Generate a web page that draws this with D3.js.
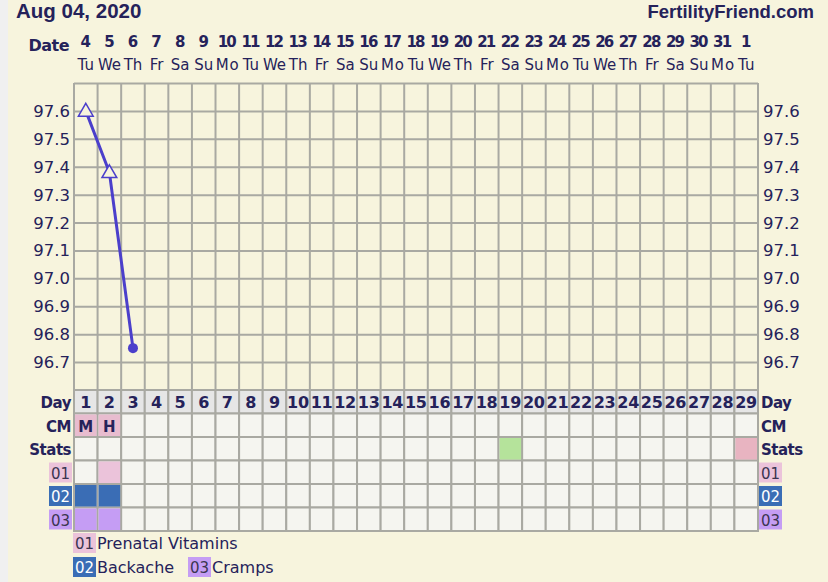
<!DOCTYPE html>
<html>
<head>
<meta charset="utf-8">
<script src="https://cdn.jsdelivr.net/npm/d3@7"></script>
<style>
  body { margin: 0; background: #f0f0f0; }
  svg text { font-family: "DejaVu Sans", Verdana, sans-serif; }
</style>
</head>
<body>
<div id="chart"></div>
<script>
// chart data
var cycleDays = d3.range(1, 30);
var dates = [4, 5, 6, 7, 8, 9, 10, 11, 12, 13, 14, 15, 16, 17, 18, 19, 20, 21, 22, 23, 24, 25, 26, 27, 28, 29, 30, 31, 1];
var weekdays = ['Tu', 'We', 'Th', 'Fr', 'Sa', 'Su', 'Mo', 'Tu', 'We', 'Th', 'Fr', 'Sa', 'Su', 'Mo',
  'Tu', 'We', 'Th', 'Fr', 'Sa', 'Su', 'Mo', 'Tu', 'We', 'Th', 'Fr', 'Sa', 'Su', 'Mo', 'Tu'];
var tempTicks = [97.6, 97.5, 97.4, 97.3, 97.2, 97.1, 97.0, 96.9, 96.8, 96.7];
var temps = [
  {day: 1, temp: 97.6, marker: 'triangle'},
  {day: 2, temp: 97.38, marker: 'triangle'},
  {day: 3, temp: 96.75, marker: 'circle'}
];
var cmValues = [{day: 1, text: 'M'}, {day: 2, text: 'H'}];
var statsValues = [{day: 19, color: '#b5e39b'}, {day: 29, color: '#e8b4c1'}];
var symptomCodes = ['01', '02', '03'];
var symptomNames = ['Prenatal Vitamins', 'Backache', 'Cramps'];
var symptomColors = ['#ebc3da', '#3a6db5', '#c59df4'];
var symptomDays = [[2], [1, 2], [1, 2]];

var width = 828, height = 582;
var ink = '#25225a';
var gridColor = '#a9a9a2';

var svg = d3.select('#chart').append('svg')
  .attr('width', width)
  .attr('height', height);

svg.append('rect').attr('x', 8).attr('y', 0).attr('width', width - 8).attr('height', height)
  .attr('fill', '#f7f4dd');

var x = d3.scaleBand().domain(cycleDays).range([74, 758]).padding(0);
var y = d3.scaleLinear().domain([96.6, 97.7]).range([390, 83]);
var cw = x.bandwidth();

// header
svg.append('text').attr('x', 16).attr('y', 18).attr('font-size', 20.5).attr('font-weight', 'bold')
  .style('font-family', '"Liberation Sans", Arial, sans-serif')
  .attr('fill', ink).text('Aug 04, 2020');
svg.append('text').attr('x', 814).attr('y', 18).attr('font-size', 18.5).attr('font-weight', 'bold')
  .style('font-family', '"Liberation Sans", Arial, sans-serif')
  .attr('text-anchor', 'end').attr('fill', ink).text('FertilityFriend.com');

svg.append('text').attr('x', 69).attr('y', 51).attr('font-size', 16).attr('font-weight', 'bold')
  .attr('text-anchor', 'end').attr('fill', ink).attr('letter-spacing', -0.5).text('Date');

svg.selectAll('.date').data(cycleDays).enter().append('text')
  .attr('x', function(d) { return x(d) + cw / 2; })
  .attr('y', 47).attr('font-size', 15).attr('font-weight', 'bold')
  .attr('text-anchor', 'middle').attr('fill', ink)
  .attr('textLength', function(d) { return dates[d - 1] > 9 ? 19 : null; })
  .text(function(d) { return dates[d - 1]; });

svg.selectAll('.wday').data(cycleDays).enter().append('text')
  .attr('x', function(d) { return x(d) + cw / 2; })
  .attr('y', 70).attr('font-size', 15)
  .attr('text-anchor', 'middle').attr('fill', ink)
  .attr('textLength', function(d) { var w = weekdays[d - 1]; return (w === 'We' || w === 'Mo') ? 23 : null; })
  .text(function(d) { return weekdays[d - 1]; });

// temperature grid
var plot = svg.append('g');
plot.append('g')
  .attr('transform', 'translate(74,0)')
  .call(d3.axisLeft(y).tickValues(d3.range(96.6, 97.75, 0.1)).tickSize(-(758 - 74)).tickFormat(''))
  .call(function(g) {
    g.select('.domain').remove();
    g.selectAll('line').attr('stroke', gridColor).attr('stroke-width', 2);
  });

plot.selectAll('.vline').data(d3.range(0, 30)).enter().append('line')
  .attr('x1', function(i) { return 74 + i * cw; })
  .attr('x2', function(i) { return 74 + i * cw; })
  .attr('y1', y(97.7)).attr('y2', y(96.6))
  .attr('stroke', gridColor).attr('stroke-width', 2);

// y tick labels both sides
svg.selectAll('.ltick').data(tempTicks).enter().append('text')
  .attr('x', 70).attr('y', function(d) { return y(d) + 6; })
  .attr('font-size', 16.5).attr('text-anchor', 'end').attr('fill', ink)
  .text(function(d) { return d.toFixed(1); });
svg.selectAll('.rtick').data(tempTicks).enter().append('text')
  .attr('x', 763).attr('y', function(d) { return y(d) + 6; })
  .attr('font-size', 16.5).attr('fill', ink)
  .text(function(d) { return d.toFixed(1); });

// temperature line
var line = d3.line()
  .x(function(d) { return x(d.day) + cw / 2; })
  .y(function(d) { return y(d.temp); });
svg.append('path').datum(temps).attr('d', line)
  .attr('fill', 'none').attr('stroke', '#4b3fcb').attr('stroke-width', 3);

temps.forEach(function(d) {
  var cx = x(d.day) + cw / 2, cy = y(d.temp);
  if (d.marker === 'triangle') {
    svg.append('path')
      .attr('d', d3.symbol().type(d3.symbolTriangle).size(95)())
      .attr('transform', 'translate(' + cx + ',' + (cy + 1) + ')')
      .attr('fill', '#f7f4dd').attr('stroke', '#4b3fcb').attr('stroke-width', 1.5);
  } else {
    svg.append('circle').attr('cx', cx).attr('cy', cy).attr('r', 5).attr('fill', '#4b3fcb');
  }
});

// lower table
var rowTop = 390, rowH = 23.5;
var rowLabels = ['Day', 'CM', 'Stats'];

function rowY(i) { return rowTop + i * rowH; }

var table = svg.append('g');
for (var r = 0; r < 6; r++) {
  table.selectAll('.cell' + r).data(cycleDays).enter().append('rect')
    .attr('x', function(d) { return x(d); })
    .attr('y', rowY(r))
    .attr('width', cw).attr('height', rowH)
    .attr('fill', r === 0 ? '#e6e6e6' : '#f5f5f0')
    .attr('stroke', gridColor).attr('stroke-width', 2);
}

table.selectAll('.cm').data(cmValues).enter().append('rect')
  .attr('x', function(d) { return x(d.day) + 1; }).attr('y', rowY(1) + 1)
  .attr('width', cw - 2).attr('height', rowH - 2).attr('fill', '#e8bccf');
table.selectAll('.cmt').data(cmValues).enter().append('text')
  .attr('x', function(d) { return x(d.day) + cw / 2; }).attr('y', rowY(1) + 18)
  .attr('font-size', 15).attr('font-weight', 'bold').attr('text-anchor', 'middle').attr('fill', ink)
  .text(function(d) { return d.text; });

table.selectAll('.st').data(statsValues).enter().append('rect')
  .attr('x', function(d) { return x(d.day) + 1; }).attr('y', rowY(2) + 1)
  .attr('width', cw - 2).attr('height', rowH - 2)
  .attr('fill', function(d) { return d.color; });

symptomDays.forEach(function(days, i) {
  table.selectAll('.sym' + i).data(days).enter().append('rect')
    .attr('x', function(d) { return x(d) + 1; }).attr('y', rowY(3 + i) + 1)
    .attr('width', cw - 2).attr('height', rowH - 2)
    .attr('fill', symptomColors[i]);
});

table.selectAll('.dayn').data(cycleDays).enter().append('text')
  .attr('x', function(d) { return x(d) + cw / 2; }).attr('y', rowY(0) + 18)
  .attr('font-size', 16).attr('font-weight', 'bold').attr('text-anchor', 'middle').attr('fill', ink)
  .attr('textLength', function(d) { return d > 9 ? 22 : null; })
  .text(function(d) { return d; });

// row labels left and right
rowLabels.forEach(function(lbl, i) {
  svg.append('text').attr('x', 71).attr('y', rowY(i) + 18)
    .attr('font-size', 15).attr('font-weight', 'bold').attr('text-anchor', 'end')
    .attr('fill', ink).attr('letter-spacing', -0.5).text(lbl);
  svg.append('text').attr('x', 761).attr('y', rowY(i) + 18)
    .attr('font-size', 15).attr('font-weight', 'bold')
    .attr('fill', ink).attr('letter-spacing', -0.5).text(lbl);
});

function codeBox(g, bx, by, i) {
  g.append('rect').attr('x', bx).attr('y', by).attr('width', 23).attr('height', 20)
    .attr('fill', symptomColors[i]);
  g.append('text').attr('x', bx + 11.5).attr('y', by + 16).attr('font-size', 15)
    .attr('text-anchor', 'middle').attr('fill', i === 1 ? '#ffffff' : '#3a3550')
    .text(symptomCodes[i]);
}

symptomCodes.forEach(function(c, i) {
  codeBox(svg, 49, rowY(3 + i) + 2, i);
  codeBox(svg, 759, rowY(3 + i) + 2, i);
});

// legend
var legend = [{i: 0, x: 73, y: 533}, {i: 1, x: 73, y: 557}, {i: 2, x: 188, y: 557}];
legend.forEach(function(l) {
  codeBox(svg, l.x, l.y, l.i);
  svg.append('text').attr('x', l.x + 24).attr('y', l.y + 16).attr('font-size', 16)
    .attr('fill', ink).text(symptomNames[l.i]);
});
</script>
</body>
</html>
